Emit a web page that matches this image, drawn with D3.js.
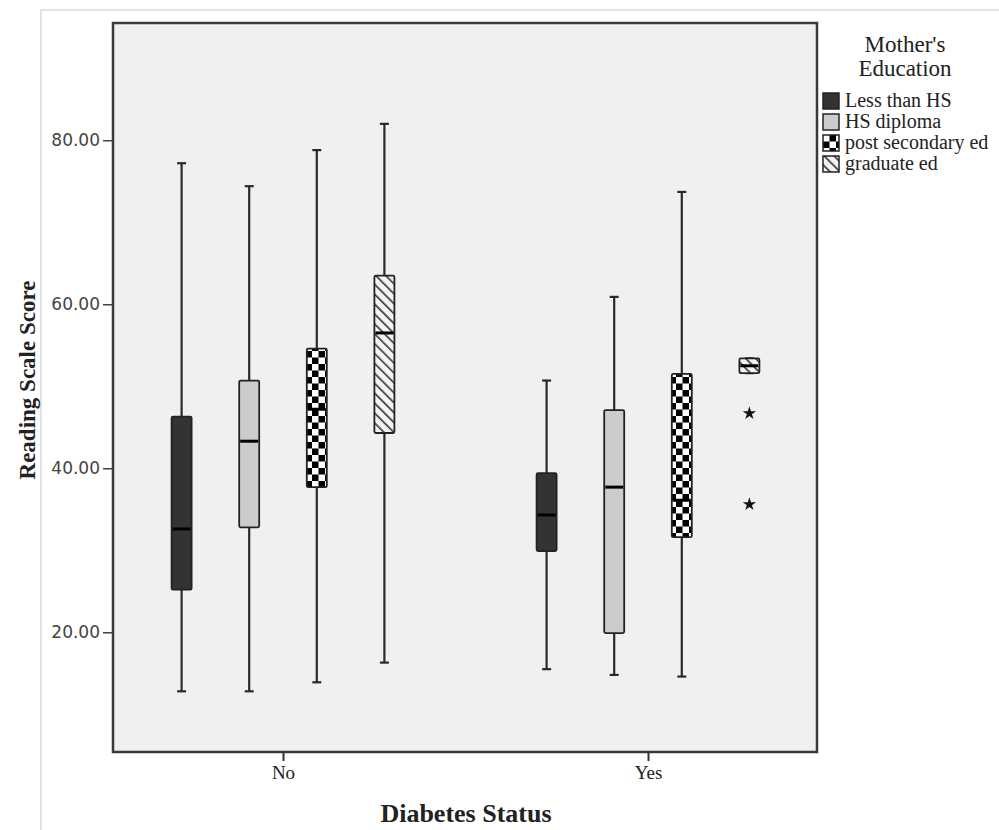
<!DOCTYPE html>
<html>
<head>
<meta charset="utf-8">
<script src="https://cdn.jsdelivr.net/npm/d3@7"></script>
<style>
  html, body { margin: 0; padding: 0; background: #fff; }
  svg { display: block; }
</style>
</head>
<body>
<svg id="chart" width="999" height="830"></svg>
<script>
// ---------------- data ----------------
const groups = ["No", "Yes"];
const series = ["Less than HS", "HS diploma", "post secondary ed", "graduate ed"];
const yTicks = [20, 40, 60, 80];

const minNo  = [12.8, 12.8, 13.9, 16.3];
const q1No   = [25.2, 32.8, 37.7, 44.3];
const medNo  = [32.6, 43.3, 47.2, 56.5];
const q3No   = [46.3, 50.7, 54.6, 63.5];
const maxNo  = [77.2, 74.4, 78.8, 82.0];

const minYes = [15.5, 14.8, 14.6, 51.6];
const q1Yes  = [29.9, 19.9, 31.6, 51.6];
const medYes = [34.3, 37.7, 36.1, 52.5];
const q3Yes  = [39.4, 47.1, 51.5, 53.4];
const maxYes = [50.7, 60.9, 73.7, 53.4];

// extreme values (stars) : Yes / graduate ed
const extremesYesGrad = [46.7, 35.6];

// ---------------- build ----------------
const stats = { No: [minNo, q1No, medNo, q3No, maxNo], Yes: [minYes, q1Yes, medYes, q3Yes, maxYes] };
const boxes = [];
groups.forEach(g => series.forEach((s, i) => {
  const a = stats[g];
  boxes.push({ g, s, i, min: a[0][i], q1: a[1][i], med: a[2][i], q3: a[3][i], max: a[4][i] });
}));

const svg = d3.select("#chart");
const plot = { left: 113, top: 23, right: 817, bottom: 752 };

const y = d3.scaleLinear().domain([5.4, 94.3]).range([plot.bottom, plot.top]);
const x0 = d3.scalePoint().domain(groups).range([283, 648]);
const x1 = d3.scaleBand().domain(series).range([-135.2, 135.2]).padding(0);
const boxW = 20;
const cx = d => x0(d.g) + x1(d.s) + x1.bandwidth() / 2;

// patterns
const defs = svg.append("defs");
const checker = defs.append("pattern").attr("id", "checker")
  .attr("patternUnits", "userSpaceOnUse").attr("width", 13).attr("height", 13);
checker.append("rect").attr("width", 13).attr("height", 13).attr("fill", "#fff");
checker.append("rect").attr("x", 6.5).attr("y", 0).attr("width", 6.5).attr("height", 6.5).attr("fill", "#000");
checker.append("rect").attr("x", 0).attr("y", 6.5).attr("width", 6.5).attr("height", 6.5).attr("fill", "#000");

const hatch = defs.append("pattern").attr("id", "hatch")
  .attr("patternUnits", "userSpaceOnUse").attr("width", 7).attr("height", 7)
  .attr("patternTransform", "rotate(-45)");
hatch.append("rect").attr("width", 7).attr("height", 7).attr("fill", "#f4f4f4");
hatch.append("line").attr("x1", 0).attr("y1", 0).attr("x2", 0).attr("y2", 7)
  .attr("stroke", "#333").attr("stroke-width", 3.2);

const fills = {
  "Less than HS": "#333333",
  "HS diploma": "#cccccc",
  "post secondary ed": "url(#checker)",
  "graduate ed": "url(#hatch)"
};

// outer faint frame
svg.append("rect").attr("x", 41).attr("y", 10).attr("width", 1000).attr("height", 900)
  .attr("fill", "none").attr("stroke", "#cfcfcf").attr("stroke-width", 1.2);

// plot background + frame
svg.append("rect").attr("x", plot.left).attr("y", plot.top)
  .attr("width", plot.right - plot.left).attr("height", plot.bottom - plot.top)
  .attr("fill", "#f0f0f0").attr("stroke", "#3a3a3a").attr("stroke-width", 2.5);

// y axis
const yAxis = d3.axisLeft(y).tickValues(yTicks).tickFormat(d3.format(".2f")).tickSize(10).tickPadding(3);
const gy = svg.append("g").attr("transform", `translate(${plot.left},0)`).call(yAxis);
gy.select(".domain").remove();
gy.selectAll(".tick line").attr("stroke", "#444").attr("stroke-width", 1.5);
gy.selectAll(".tick text").attr("fill", "#444").style("font-family", "DejaVu Sans, sans-serif").style("font-size", "17px");

// x axis
const xAxis = d3.axisBottom(x0).tickSize(9).tickPadding(5);
const gx = svg.append("g").attr("transform", `translate(0,${plot.bottom})`).call(xAxis);
gx.select(".domain").remove();
gx.selectAll(".tick line").attr("stroke", "#333").attr("stroke-width", 2);
gx.selectAll(".tick text").attr("fill", "#222").style("font-family", "Liberation Serif, serif").style("font-size", "19px");

// whiskers
const bg = svg.append("g");
const wb = bg.selectAll("g.box").data(boxes).join("g").attr("class", "box");
wb.append("line")
  .attr("x1", cx).attr("x2", cx)
  .attr("y1", d => y(d.max)).attr("y2", d => y(d.min))
  .attr("stroke", "#2a2a2a").attr("stroke-width", 2.2);
wb.append("line")
  .attr("x1", d => cx(d) - 4.5).attr("x2", d => cx(d) + 4.5)
  .attr("y1", d => y(d.max)).attr("y2", d => y(d.max))
  .attr("stroke", "#2a2a2a").attr("stroke-width", 2.2);
wb.append("line")
  .attr("x1", d => cx(d) - 4.5).attr("x2", d => cx(d) + 4.5)
  .attr("y1", d => y(d.min)).attr("y2", d => y(d.min))
  .attr("stroke", "#2a2a2a").attr("stroke-width", 2.2);
wb.append("rect")
  .attr("x", d => cx(d) - boxW / 2).attr("width", boxW)
  .attr("y", d => y(d.q3)).attr("height", d => y(d.q1) - y(d.q3))
  .attr("fill", d => fills[d.s]).attr("stroke", "#222").attr("stroke-width", 1.8)
  .attr("rx", 1.5);
wb.append("line")
  .attr("x1", d => cx(d) - boxW / 2 + 1).attr("x2", d => cx(d) + boxW / 2 - 1)
  .attr("y1", d => y(d.med)).attr("y2", d => y(d.med))
  .attr("stroke", "#000").attr("stroke-width", 3);

// extremes (stars)
const gradYes = boxes.find(b => b.g === "Yes" && b.s === "graduate ed");
svg.append("g").selectAll("path").data(extremesYesGrad).join("path")
  .attr("d", d3.symbol().type(d3.symbolStar).size(55))
  .attr("transform", d => `translate(${cx(gradYes)},${y(d)})`)
  .attr("fill", "#111");

// axis titles
svg.append("text").attr("x", 466).attr("y", 822).attr("text-anchor", "middle")
  .style("font-family", "Liberation Serif, serif").style("font-weight", "bold").style("font-size", "26px")
  .attr("fill", "#222").text("Diabetes Status");
svg.append("text").attr("transform", "translate(35,380) rotate(-90)").attr("text-anchor", "middle")
  .style("font-family", "Liberation Serif, serif").style("font-weight", "bold").style("font-size", "23px")
  .attr("fill", "#222").text("Reading Scale Score");

// legend
const lg = svg.append("g");
lg.append("text").attr("x", 905).attr("y", 52).attr("text-anchor", "middle")
  .style("font-family", "Liberation Serif, serif").style("font-size", "23px").attr("fill", "#222").text("Mother's");
lg.append("text").attr("x", 905).attr("y", 76).attr("text-anchor", "middle")
  .style("font-family", "Liberation Serif, serif").style("font-size", "23px").attr("fill", "#222").text("Education");
const li = lg.selectAll("g.item").data(series).join("g").attr("class", "item")
  .attr("transform", (d, i) => `translate(823,${93 + i * 21})`);
li.append("rect").attr("width", 16).attr("height", 16)
  .attr("fill", d => fills[d]).attr("stroke", "#222").attr("stroke-width", 1.5);
li.append("text").attr("x", 22).attr("y", 14)
  .style("font-family", "Liberation Serif, serif").style("font-size", "20px").attr("fill", "#222").text(d => d);
</script>
</body>
</html>
